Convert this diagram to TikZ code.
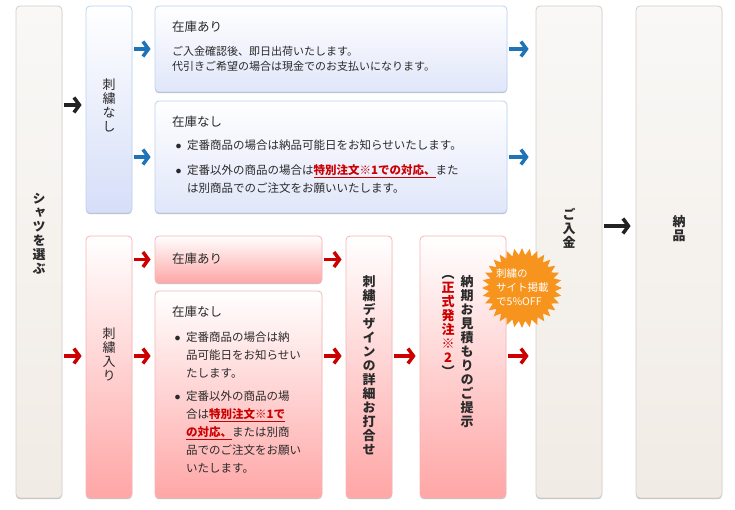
\documentclass[tikz,border=0pt]{standalone}
\usepackage{fontspec}
\setmainfont{Noto Sans CJK JP}
\newfontfamily\tatefont[RawFeature=+vert]{Noto Sans CJK JP}
\usetikzlibrary{arrows.meta, shadows}

\definecolor{GrayTop}{HTML}{F9F8F6}
\definecolor{GrayBot}{HTML}{F1EBE5}
\definecolor{GrayLine}{HTML}{D3CFCA}
\definecolor{BlueBot}{HTML}{D6DEF8}
\definecolor{BlueLine}{HTML}{B9D4EE}
\definecolor{RedBot}{HTML}{FFA6A6}
\definecolor{RedLine}{HTML}{F7B5B5}
\definecolor{ArrowBlue}{HTML}{1F74B8}
\definecolor{ArrowRed}{HTML}{CC0000}
\definecolor{ArrowBlack}{HTML}{222222}
\definecolor{TextGray}{HTML}{2A2A2A}
\definecolor{AccentRed}{HTML}{CC0000}
\definecolor{BadgeOrange}{HTML}{F7941D}

% vertical (tategaki) text: one character per line
\newcommand\tatetext[1]{\vbox{\baselineskip=14pt\lineskiplimit=-100pt\tatechar#1\relax}}
\def\tatechar#1{\ifx\relax#1\else\hbox to 14pt{\hss#1\hss}\expandafter\tatechar\fi}
\newcommand\aka{\color{AccentRed}\bfseries}
\newcommand\bul{\makebox[12pt][l]{\hspace{0.5pt}$\bullet$}}
\newcommand\tokubetsu[1]{\textcolor{AccentRed}{\bfseries\underline{#1}}}

\begin{document}
\begin{tikzpicture}[x=1pt, y=-1pt,
    box/.style={rounded corners=4pt, line width=0.8pt, inner sep=0pt,
      drop shadow={shadow xshift=0pt, shadow yshift=-1.2pt, opacity=0.25, fill=black}},
    graybox/.style={box, draw=GrayLine, top color=GrayTop, bottom color=GrayBot},
    bluebox/.style={box, draw=BlueLine, top color=white, bottom color=BlueBot},
    redbox/.style={box, draw=RedLine, top color=white, bottom color=RedBot},
    tate/.style={anchor=north, inner sep=0pt, text=TextGray, font=\tatefont\fontsize{13}{14}\selectfont},
    tatebold/.style={tate, font=\tatefont\bfseries\fontsize{13}{14}\selectfont},
    title/.style={anchor=west, inner sep=0pt, text=TextGray, font=\fontsize{12.5}{15}\selectfont},
    body/.style={anchor=north west, inner sep=0pt, align=left, text=TextGray, font=\fontsize{11.5}{18}\selectfont},
    flow/.style={line width=3.5pt, -{Straight Barb[length=5.5pt, width=15pt]}, shorten <=1.5pt, shorten >=4pt}]
    \useasboundingbox (0,0) rectangle (735,510);

    % Boxes
    \node[graybox, minimum width=46, minimum height=492] (shirt) at (39,252) {};
    \node[bluebox, minimum width=46, minimum height=207] (nashi) at (109,109.5) {};
    \node[redbox, minimum width=46, minimum height=262] (ire) at (109,367) {};
    \node[bluebox, bottom color=BlueBot!75!white, minimum width=352, minimum height=86] (stockA) at (331,49) {};
    \node[bluebox, bottom color=BlueBot!75!white, minimum width=352, minimum height=112] (stockB) at (331,157) {};
    \node[redbox, minimum width=167, minimum height=47] (redA) at (238.5,259.5) {};
    \node[redbox, minimum width=167, minimum height=207] (redB) at (238.5,394.5) {};
    \node[redbox, minimum width=46, minimum height=262] (design) at (369,367) {};
    \node[redbox, minimum width=86, minimum height=262] (quote) at (463,367) {};
    \node[graybox, minimum width=66, minimum height=492] (payment) at (569,252) {};
    \node[graybox, minimum width=86, minimum height=492] (delivery) at (679,252) {};

    % Vertical labels
    \node[tatebold] (shirtText) at (39,193) {\tatetext{シャツを選ぶ}};
    \node[tate] (nashiText) at (109,78) {\tatetext{刺繍なし}};
    \node[tate] (ireText) at (109,327) {\tatetext{刺繍入り}};
    \node[tatebold] (designText) at (369,275) {\tatetext{刺繍デザインの詳細お打合せ}};
    \node[tatebold] (quoteText) at (467,275) {\tatetext{納期お見積もりのご提示}};
    \node[tatebold] (orderText) at (448,275) {\tatetext{︵{\aka 正}{\aka 式}{\aka 発}{\aka 注}{\aka ※}{\aka 2}︶}};
    \node[tatebold] (paymentText) at (569,208) {\tatetext{ご入金}};
    \node[tatebold] (deliveryText) at (679,215) {\tatetext{納品}};

    % Stock texts
    \node[title] (stockAHead) at (172,27) {在庫あり};
    \node[body, font=\fontsize{11}{15}\selectfont] (stockABody) at (172,46.5) {ご入金確認後、即日出荷いたします。\\代引きご希望の場合は現金でのお支払いになります。};
    \node[title] (stockBHead) at (172,122) {在庫なし};
    \node[body] (stockBBody) at (175,139.5) {\bul 定番商品の場合は納品可能日をお知らせいたします。\\[7pt]
      \bul 定番以外の商品の場合は\tokubetsu{特別注文※1での対応、}また\\
      \hspace*{12pt}は別商品でのご注文をお願いいたします。};
    \node[title] (redAHead) at (172,259) {在庫あり};
    \node[title] (redBHead) at (172,312) {在庫なし};
    \node[body] (redBBody) at (174,331.5) {\bul 定番商品の場合は納\\\hspace*{12pt}品可能日をお知らせい\\\hspace*{12pt}たします。\\[5pt]
      \bul 定番以外の商品の場\\\hspace*{12pt}合は\tokubetsu{特別注文※1で}\\\hspace*{12pt}\tokubetsu{の対応、}または別商\\
      \hspace*{12pt}品でのご注文をお願い\\\hspace*{12pt}いたします。};

    % Badge
    \fill[BadgeOrange, shift={(522,288)}] (0:40) \foreach \i in {1,...,63} {-- ({\i*5.625}:{mod(\i,2)==0 ? 40 : 33})} -- cycle;
    \node[anchor=west, inner sep=0pt, align=left, text=white, font=\fontsize{10.5}{14}\selectfont] (badge) at (496,287) {刺繍の\\サイト掲載\\で5\%OFF};

    % Arrows
    \coordinate (rowTop) at (0,105);
    \coordinate (rowMid) at (0,356);
    \coordinate (rowPay) at (0,226);
    \draw[flow, ArrowBlack] (shirt.east |- rowTop) -- (nashi.west |- rowTop);
    \draw[flow, ArrowRed] (shirt.east |- rowMid) -- (ire.west |- rowMid);
    \draw[flow, ArrowBlue] (nashi.east |- stockA.west) -- (stockA.west);
    \draw[flow, ArrowBlue] (nashi.east |- stockB.west) -- (stockB.west);
    \draw[flow, ArrowBlue, shorten >=7pt] (stockA.east) -- (payment.west |- stockA.east);
    \draw[flow, ArrowBlue, shorten >=7pt] (stockB.east) -- (payment.west |- stockB.east);
    \draw[flow, ArrowRed] (ire.east |- redA.west) -- (redA.west);
    \draw[flow, ArrowRed] (ire.east |- rowMid) -- (redB.west |- rowMid);
    \draw[flow, ArrowRed] (redA.east) -- (design.west |- redA.east);
    \draw[flow, ArrowRed] (redB.east |- rowMid) -- (design.west |- rowMid);
    \draw[flow, ArrowRed] (design.east |- rowMid) -- (quote.west |- rowMid);
    \draw[flow, ArrowRed, shorten >=7pt] (quote.east |- rowMid) -- (payment.west |- rowMid);
    \draw[flow, ArrowBlack, shorten >=5pt] (payment.east |- rowPay) -- (delivery.west |- rowPay);
\end{tikzpicture}
\end{document}
